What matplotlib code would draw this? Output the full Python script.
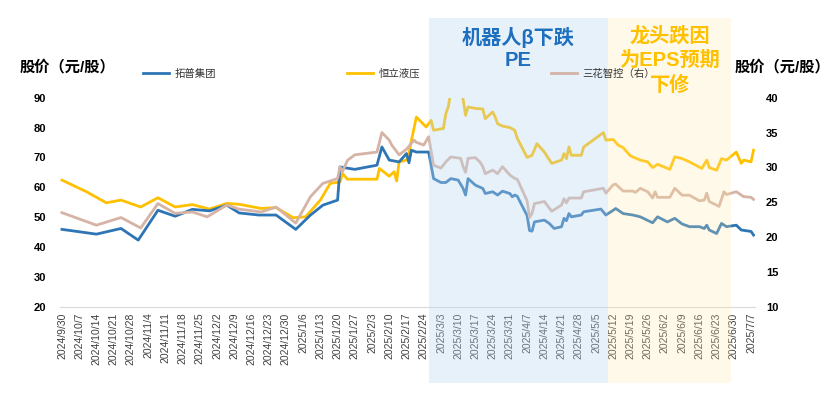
import matplotlib
matplotlib.use("Agg")
import matplotlib.pyplot as plt
import matplotlib.dates as mdates
from matplotlib.patches import Rectangle
from matplotlib.transforms import blended_transform_factory
import pandas as pd

plt.rcParams['font.family'] = ['Liberation Sans', 'Noto Sans CJK SC']

# 拓普集团 (left axis)
topu_dates = ['2024-09-30', '2024-10-14', '2024-10-24', '2024-10-31', '2024-11-08', '2024-11-15',
              '2024-11-22', '2024-11-29', '2024-12-06', '2024-12-11', '2024-12-19', '2024-12-26',
              '2025-01-03', '2025-01-09', '2025-01-14', '2025-01-20', '2025-01-21', '2025-01-27',
              '2025-02-05', '2025-02-07', '2025-02-10', '2025-02-14', '2025-02-17', '2025-02-18',
              '2025-02-19', '2025-02-21', '2025-02-26', '2025-02-28', '2025-03-03', '2025-03-05',
              '2025-03-07', '2025-03-10', '2025-03-12', '2025-03-13', '2025-03-14', '2025-03-17',
              '2025-03-20', '2025-03-21', '2025-03-24', '2025-03-26', '2025-03-28', '2025-03-31',
              '2025-04-01', '2025-04-02', '2025-04-03', '2025-04-07', '2025-04-08', '2025-04-09',
              '2025-04-10', '2025-04-14', '2025-04-16', '2025-04-18', '2025-04-21', '2025-04-22',
              '2025-04-23', '2025-04-24', '2025-04-25', '2025-04-29', '2025-04-30', '2025-05-07',
              '2025-05-09', '2025-05-12', '2025-05-13', '2025-05-16', '2025-05-20', '2025-05-23',
              '2025-05-28', '2025-05-30', '2025-06-03', '2025-06-06', '2025-06-09', '2025-06-12',
              '2025-06-16', '2025-06-18', '2025-06-19', '2025-06-20', '2025-06-23', '2025-06-25',
              '2025-06-27', '2025-07-01', '2025-07-03', '2025-07-07', '2025-07-08']
topu_px = [45.9, 44.3, 46.2, 42.3, 52.3, 50.3, 52.6, 52.1, 54.0, 51.4, 50.7, 50.7,
           45.9, 50.7, 54.0, 55.7, 66.8, 66.0, 67.4, 73.5, 69.1, 68.5, 71.3, 68.2,
           72.4, 71.8, 71.8, 62.9, 61.6, 61.6, 62.9, 62.4, 59.6, 57.4, 62.9, 60.7,
           59.6, 57.9, 58.5, 57.4, 58.7, 57.9, 56.8, 57.4, 57.0, 50.5, 45.5, 45.3,
           48.4, 49.0, 47.9, 46.2, 46.8, 49.6, 48.8, 51.2, 50.1, 50.7, 51.8, 52.7,
           50.7, 52.3, 52.9, 51.2, 50.7, 50.1, 48.1, 50.1, 48.4, 49.6, 47.7, 46.8,
           46.8, 46.2, 47.3, 45.7, 44.5, 47.9, 46.8, 47.3, 45.7, 45.2, 44.0]

# 恒立液压 (left axis)
hengli_dates = ['2024-09-30', '2024-10-10', '2024-10-18', '2024-10-24', '2024-11-01', '2024-11-08',
                '2024-11-15', '2024-11-22', '2024-11-29', '2024-12-06', '2024-12-11', '2024-12-20',
                '2024-12-26', '2025-01-02', '2025-01-07', '2025-01-13', '2025-01-17', '2025-01-21',
                '2025-01-22', '2025-01-24', '2025-02-05', '2025-02-06', '2025-02-10', '2025-02-12',
                '2025-02-13', '2025-02-14', '2025-02-17', '2025-02-18', '2025-02-19', '2025-02-21',
                '2025-02-25', '2025-02-27', '2025-02-28', '2025-03-04', '2025-03-05', '2025-03-06',
                '2025-03-07', '2025-03-10', '2025-03-11', '2025-03-12', '2025-03-13', '2025-03-14',
                '2025-03-17', '2025-03-20', '2025-03-21', '2025-03-24', '2025-03-25', '2025-03-26',
                '2025-03-28', '2025-03-31', '2025-04-02', '2025-04-03', '2025-04-07', '2025-04-09',
                '2025-04-11', '2025-04-14', '2025-04-17', '2025-04-21', '2025-04-22', '2025-04-23',
                '2025-04-24', '2025-04-25', '2025-04-29', '2025-04-30', '2025-05-08', '2025-05-09',
                '2025-05-12', '2025-05-14', '2025-05-16', '2025-05-19', '2025-05-23', '2025-05-26',
                '2025-05-28', '2025-05-30', '2025-06-04', '2025-06-06', '2025-06-09', '2025-06-12',
                '2025-06-17', '2025-06-19', '2025-06-20', '2025-06-23', '2025-06-25', '2025-06-27',
                '2025-07-01', '2025-07-03', '2025-07-04', '2025-07-07', '2025-07-08']
hengli_px = [62.4, 58.5, 54.8, 55.7, 53.4, 56.5, 53.4, 54.2, 52.7, 54.6, 54.3, 52.9,
             53.2, 49.8, 50.1, 55.7, 61.3, 61.8, 64.6, 62.7, 62.7, 66.3, 63.7, 65.2,
             62.1, 68.5, 69.1, 71.3, 75.7, 83.5, 80.2, 82.4, 79.1, 79.7, 84.7, 87.0,
             92.0, 96.0, 93.0, 89.5, 84.1, 86.9, 86.4, 86.2, 83.0, 85.2, 83.6, 81.3,
             80.5, 80.0, 79.1, 76.4, 70.0, 70.7, 74.6, 71.8, 68.0, 69.1, 71.3, 69.6,
             73.5, 70.7, 70.7, 73.5, 78.3, 75.8, 76.0, 74.1, 73.3, 70.5, 69.1, 68.5,
             66.6, 67.7, 66.0, 70.2, 69.6, 68.5, 66.3, 69.1, 66.6, 65.7, 69.6, 69.1,
             71.8, 68.0, 69.1, 68.5, 72.4]

# 三花智控 (right axis)
sanhua_dates = ['2024-09-30', '2024-10-14', '2024-10-24', '2024-11-01', '2024-11-08', '2024-11-15',
                '2024-11-22', '2024-11-28', '2024-12-06', '2024-12-11', '2024-12-20', '2024-12-26',
                '2025-01-03', '2025-01-09', '2025-01-14', '2025-01-20', '2025-01-21', '2025-01-22',
                '2025-01-24', '2025-01-27', '2025-02-05', '2025-02-07', '2025-02-10', '2025-02-11',
                '2025-02-14', '2025-02-17', '2025-02-20', '2025-02-21', '2025-02-24', '2025-02-26',
                '2025-02-28', '2025-03-03', '2025-03-05', '2025-03-07', '2025-03-11', '2025-03-12',
                '2025-03-13', '2025-03-14', '2025-03-17', '2025-03-19', '2025-03-20', '2025-03-21',
                '2025-03-24', '2025-03-26', '2025-03-28', '2025-03-31', '2025-04-02', '2025-04-03',
                '2025-04-07', '2025-04-08', '2025-04-09', '2025-04-10', '2025-04-14', '2025-04-17',
                '2025-04-21', '2025-04-22', '2025-04-23', '2025-04-24', '2025-04-29', '2025-04-30',
                '2025-05-08', '2025-05-09', '2025-05-12', '2025-05-13', '2025-05-16', '2025-05-20',
                '2025-05-21', '2025-05-23', '2025-05-26', '2025-05-28', '2025-05-29', '2025-05-30',
                '2025-06-04', '2025-06-06', '2025-06-09', '2025-06-12', '2025-06-16', '2025-06-18',
                '2025-06-19', '2025-06-20', '2025-06-24', '2025-06-26', '2025-06-27', '2025-07-01',
                '2025-07-04', '2025-07-07', '2025-07-08']
sanhua_px = [23.5, 21.7, 22.8, 21.3, 24.8, 23.4, 23.6, 22.9, 24.6, 24.0, 23.6, 24.3,
             22.0, 25.8, 27.7, 28.4, 30.1, 29.4, 31.0, 31.8, 32.2, 35.0, 33.9, 33.2,
             31.8, 32.6, 33.9, 33.6, 33.2, 34.4, 30.3, 29.9, 30.8, 31.5, 31.3, 30.1,
             29.3, 31.3, 31.4, 30.7, 30.1, 29.1, 29.6, 29.1, 30.1, 28.9, 28.4, 28.3,
             25.2, 22.8, 23.4, 24.8, 25.1, 23.7, 24.6, 25.5, 24.9, 25.6, 25.6, 26.5,
             27.0, 26.3, 27.5, 27.6, 26.6, 26.6, 26.4, 27.0, 26.5, 25.6, 26.5, 25.7,
             25.7, 27.0, 26.0, 26.0, 25.2, 25.3, 26.3, 25.1, 24.4, 26.5, 26.1, 26.5,
             25.8, 25.7, 25.4]

# shaded periods and their notes (one entry per text line)
spans = [('2025-02-26', '2025-05-10'), ('2025-05-10', '2025-06-29')]
span_notes = [['机器人β下跌', 'PE'], ['龙头跌因', '为EPS预期', '下修']]

tick_dates = pd.date_range('2024-09-30', '2025-07-07', freq='7D')
tick_labels = [f"{d.year}/{d.month}/{d.day}" for d in tick_dates]

BLUE = '#2E75B6'
GOLD = '#FFC000'
TAN = '#D5B3A5'

fig = plt.figure(figsize=(8.32, 3.96), dpi=100)
ax = fig.add_axes([60 / 832, 89.3 / 396, 695 / 832, 209 / 396])
ax2 = ax.twinx()

ax.plot(pd.to_datetime(hengli_dates), hengli_px, color=GOLD, lw=2, label='恒立液压', zorder=2)
ax2.plot(pd.to_datetime(sanhua_dates), sanhua_px, color=TAN, lw=2, label='三花智控（右）', zorder=2)
ax.plot(pd.to_datetime(topu_dates), topu_px, color=BLUE, lw=2, label='拓普集团', zorder=3)

start = pd.Timestamp('2024-09-30')
ax.set_xlim(start - pd.Timedelta(hours=19), start + pd.Timedelta(days=281.6))
ax.set_ylim(20, 90)
ax2.set_ylim(10, 40)
ax.set_yticks(range(20, 91, 10))
ax2.set_yticks(range(10, 41, 5))
ax.set_xticks(tick_dates)
ax.set_xticklabels(tick_labels, rotation=90, fontsize=7.5, color='#404040', va='top')

for a in (ax, ax2):
    for s in a.spines.values():
        s.set_visible(False)
ax.spines['bottom'].set_visible(True)
ax.spines['bottom'].set_color('#D9D9D9')
ax.tick_params(axis='x', length=0, pad=4)
ax.tick_params(axis='y', length=0, pad=10, labelsize=8)
ax2.tick_params(axis='y', length=0, pad=8, labelsize=8)
for lab in ax.get_yticklabels() + ax2.get_yticklabels():
    lab.set_fontweight('bold')

# translucent shading over the plot, reaching above and below the axes
trans = blended_transform_factory(ax.transData, fig.transFigure)
shade_colors = [('#BDD7EE', 0.35), ('#FFE9A8', 0.25)]
for (s0, s1), (fc, al) in zip(spans, shade_colors):
    x0 = mdates.date2num(pd.Timestamp(s0))
    x1 = mdates.date2num(pd.Timestamp(s1))
    fig.add_artist(Rectangle((x0, 13 / 396), x1 - x0, 365 / 396, transform=trans,
                             facecolor=fc, alpha=al, lw=0, zorder=5))

note_colors = ['#1F6FBF', GOLD]
note_rows = [[37, 60], [36, 60, 85]]
for (s0, s1), lines, c, rows in zip(spans, span_notes, note_colors, note_rows):
    x0 = mdates.date2num(pd.Timestamp(s0))
    x1 = mdates.date2num(pd.Timestamp(s1))
    for txt, yp in zip(lines, rows):
        fig.text((x0 + x1) / 2, (396 - yp) / 396, txt, transform=trans, ha='center', va='center',
                 fontsize=14.5, fontweight='bold', color=c, zorder=10)

fig.text(20 / 832, (396 - 67) / 396, '股价（元/股）', fontsize=11, fontweight='bold', va='center')
fig.text(735 / 832, (396 - 67) / 396, '股价（元/股）', fontsize=11, fontweight='bold', va='center')

h1, l1 = ax.get_legend_handles_labels()
h2, l2 = ax2.get_legend_handles_labels()
handles = [h1[1], h1[0], h2[0]]
labels = [l1[1], l1[0], l2[0]]
fig.legend(handles, labels, loc='center left', bbox_to_anchor=(143 / 832, (396 - 74) / 396),
           ncol=3, frameon=False, fontsize=7.5, borderpad=0, borderaxespad=0,
           handlelength=2.5, handletextpad=0.5, columnspacing=12.6, labelcolor='#333333')

fig.savefig('out.png', dpi=100)
